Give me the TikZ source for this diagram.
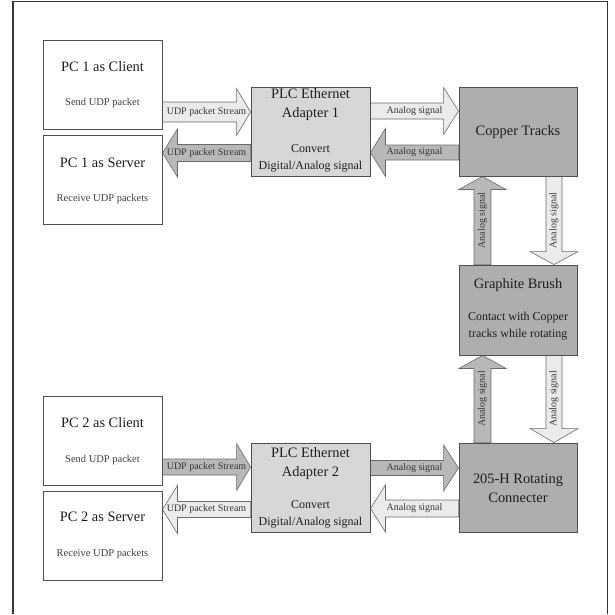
\documentclass[tikz,border=0pt]{standalone}
\usepackage{fontspec}
\setmainfont{Liberation Serif}
\usetikzlibrary{calc}
\pgfdeclarelayer{paper}
\pgfdeclarelayer{arrowlayer}
\pgfsetlayers{paper,arrowlayer,main}
\definecolor{plcfill}{HTML}{D7D7D7}
\definecolor{devfill}{HTML}{AEAEAE}
\definecolor{lightarr}{HTML}{EBEBEB}
\definecolor{darkarr}{HTML}{B8B8B8}
\definecolor{edge}{HTML}{505050}
\definecolor{ink}{HTML}{1E1E1E}
\tikzset{
  box/.style={draw=edge, line width=0.9pt, minimum width=119pt, minimum height=89pt, inner sep=0pt},
  pcbox/.style={box, fill=white},
  plcbox/.style={box, fill=plcfill},
  devbox/.style={box, fill=devfill},
  titletext/.style={text=ink, inner sep=0pt, align=center, font=\fontsize{14.4}{19}\selectfont},
  subtext/.style={text=ink!85, inner sep=0pt, align=center, font=\fontsize{10.5}{13}\selectfont},
  subtextbig/.style={text=ink, inner sep=0pt, align=center, font=\fontsize{12}{17}\selectfont},
  arrowlabel/.style={text=ink!90, inner sep=0pt, font=\fontsize{10}{12}\selectfont},
  lightarrow/.style={draw=edge!85, line width=0.6pt, fill=lightarr},
  darkarrow/.style={draw=edge!85, line width=0.6pt, fill=darkarr},
  framestyle/.style={draw=black!80, line width=1.3pt}
}
% #1 name, #2 start, #3 tip, #4 shaft half width, #5 head half width, #6 head length, #7 style, #8 label options, #9 label
\newcommand\fatarrow[9]{%
  \coordinate (#1-a) at #2;
  \coordinate (#1-b) at #3;
  \coordinate (#1-h) at ($(#1-b)!#6pt!(#1-a)$);
  \path[#7] ($(#1-a)!#4pt!90:(#1-b)$) -- ($(#1-h)!#4pt!90:(#1-b)$) -- ($(#1-h)!#5pt!90:(#1-b)$) -- (#1-b)
     -- ($(#1-h)!#5pt!-90:(#1-b)$) -- ($(#1-h)!#4pt!-90:(#1-b)$) -- ($(#1-a)!#4pt!-90:(#1-b)$) -- cycle;
  \node[arrowlabel,#8] (#1-l) at ($(#1-a)!0.5!(#1-b)$) {#9};
}
\begin{document}
\begin{tikzpicture}[x=1pt,y=-1pt]
\useasboundingbox (0,0) rectangle (615,614);
\begin{pgfonlayer}{paper}
\fill[white] (0,0) rectangle (615,614);
\end{pgfonlayer}
\draw[framestyle] (13,614) -- (13,1.5) -- (607.5,1.5) -- (607.5,614);

% boxes
\node[pcbox]  (pc1c) at (102.5,84.5) {};
\node[pcbox]  (pc1s) at (102.5,179.5) {};
\node[plcbox] (plc1) at (310.5,131.5) {};
\node[devbox, minimum width=118pt] (cu) at (518,131.5) {};
\node[devbox, minimum width=118pt, minimum height=90pt] (gb) at (518,310) {};
\node[pcbox]  (pc2c) at (102.5,440.5) {};
\node[pcbox]  (pc2s) at (102.5,535.5) {};
\node[plcbox] (plc2) at (310.5,487.5) {};
\node[devbox, minimum width=118pt] (rc) at (518,487.5) {};

% texts
\node[titletext] (pc1c-t) at (102.5,67) {PC 1 as Client};
\node[subtext]   (pc1c-s) at (102.5,103) {Send UDP packet};
\node[titletext] (pc1s-t) at (102.5,163) {PC 1 as Server};
\node[subtext]   (pc1s-s) at (102.5,199) {Receive UDP packets};
\node[titletext] (plc1-t) at (310.5,105) {PLC Ethernet\\Adapter 1};
\node[subtextbig] (plc1-s) at (310.5,158) {Convert\\Digital/Analog signal};
\node[titletext] (cu-t) at (518,132) {Copper Tracks};
\node[titletext] (gb-t) at (518,285) {Graphite Brush};
\node[subtextbig] (gb-s) at (518,326.5) {Contact with Copper\\tracks while rotating};
\node[titletext] (pc2c-t) at (102.5,423) {PC 2 as Client};
\node[subtext]   (pc2c-s) at (102.5,460) {Send UDP packet};
\node[titletext] (pc2s-t) at (102.5,517) {PC 2 as Server};
\node[subtext]   (pc2s-s) at (102.5,554) {Receive UDP packets};
\node[titletext] (plc2-t) at (310.5,463.5) {PLC Ethernet\\Adapter 2};
\node[subtextbig] (plc2-s) at (310.5,514) {Convert\\Digital/Analog signal};
\node[titletext] (rc-t) at (518,488) {205-H Rotating\\Connecter};

% arrows
\begin{pgfonlayer}{arrowlayer}
\fatarrow{u1r}{(pc1c.east |- 0,112)}{(plc1.west |- 0,112)}{10}{23.5}{14}{lightarrow}{}{UDP packet Stream}
\fatarrow{u1l}{(plc1.west |- 0,153)}{(pc1s.east |- 0,153)}{8.5}{24}{15}{darkarrow}{}{UDP packet Stream}
\fatarrow{a1r}{(plc1.east |- 0,111)}{(cu.west |- 0,111)}{8}{23.5}{15}{lightarrow}{}{Analog signal}
\fatarrow{a1l}{(cu.west |- 0,152.5)}{(plc1.east |- 0,152.5)}{7.5}{24}{15}{darkarrow}{}{Analog signal}
\fatarrow{v1u}{(gb.north -| 482.5,0)}{(cu.south -| 482.5,0)}{8.5}{23.5}{13}{darkarrow}{rotate=90}{Analog signal}
\fatarrow{v1d}{(cu.south -| 554,0)}{(gb.north -| 554,0)}{8}{24}{13}{lightarrow}{rotate=90}{Analog signal}
\fatarrow{v2u}{(rc.north -| 482.5,0)}{(gb.south -| 482.5,0)}{8.5}{23.5}{13}{darkarrow}{rotate=90}{Analog signal}
\fatarrow{v2d}{(gb.south -| 554,0)}{(rc.north -| 554,0)}{8}{24}{14}{lightarrow}{rotate=90}{Analog signal}
\fatarrow{a2r}{(plc2.east |- 0,468)}{(rc.west |- 0,468)}{7.5}{23}{15}{darkarrow}{}{Analog signal}
\fatarrow{a2l}{(rc.west |- 0,508.5)}{(plc2.east |- 0,508.5)}{8.5}{23.5}{15}{lightarrow}{}{Analog signal}
\fatarrow{u2r}{(pc2c.east |- 0,467)}{(plc2.west |- 0,467)}{8}{23.5}{14}{darkarrow}{}{UDP packet Stream}
\fatarrow{u2l}{(plc2.west |- 0,509.5)}{(pc2s.east |- 0,509.5)}{8}{24}{15}{lightarrow}{}{UDP packet Stream}
\end{pgfonlayer}
\end{tikzpicture}
\end{document}
